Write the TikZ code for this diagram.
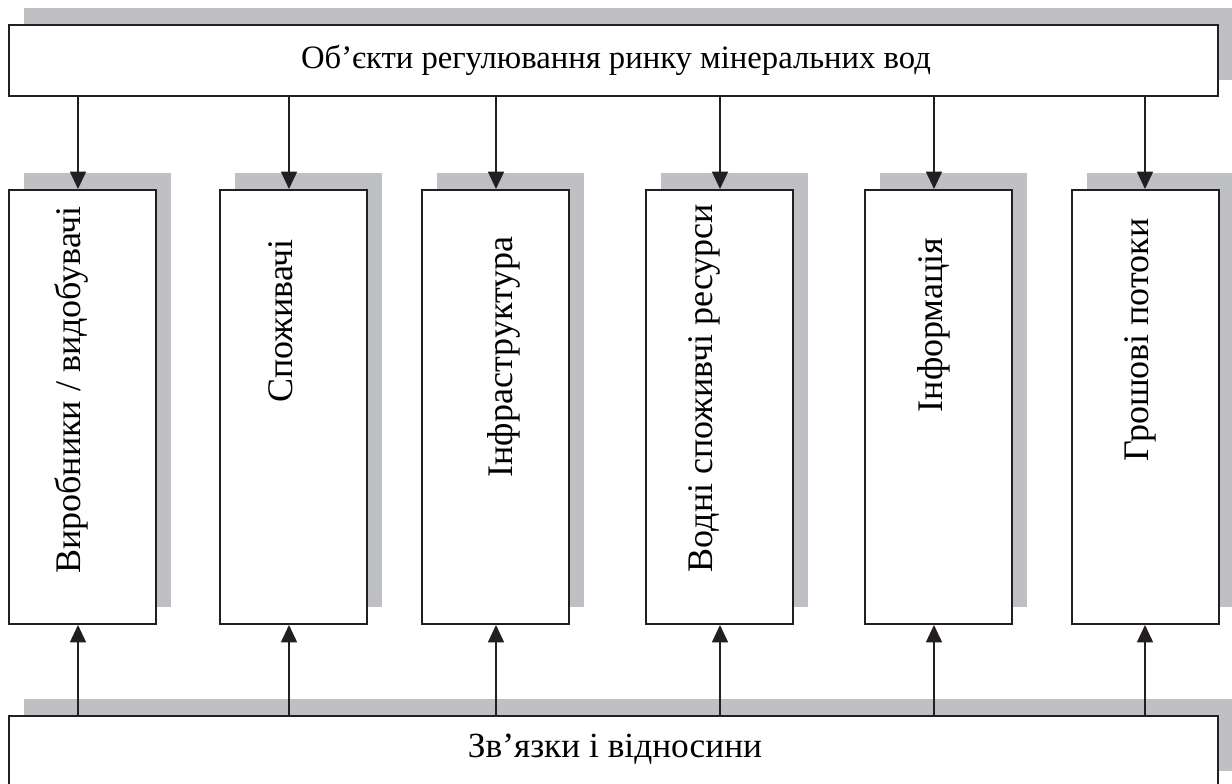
\documentclass[tikz,border=0pt]{standalone}
\usepackage{fontspec}
\setmainfont{Liberation Serif}
\usetikzlibrary{arrows.meta,shadows,calc}
\definecolor{shade}{RGB}{191,192,196}
\definecolor{ink}{RGB}{35,31,32}
\begin{document}
\begin{tikzpicture}[x=0.75pt,y=-0.75pt,
  box/.style={draw=ink,line width=1.5pt,fill=white,inner sep=0pt,
    general shadow={fill=shade,shadow xshift=11.5pt,shadow yshift=12.5pt}},
  col/.style={box,minimum width=110.25pt,minimum height=325.5pt},
  wide/.style={box,minimum width=906.75pt,minimum height=53.5pt},
  lbl/.style={inner sep=0pt,text=black},
  vlbl/.style={lbl,rotate=90,font=\fontsize{27}{32}\selectfont},
  arr/.style={draw=ink,line width=1.2pt,-{Triangle[length=13pt,width=12pt]}}]
\useasboundingbox (0,0) rectangle (1232,783);
\clip (0,0) rectangle (1232,783);
% top and bottom boxes
\node[wide] (top) at (613.5,60.5) {};
\node[lbl,font=\fontsize{24.5}{29}\selectfont] (toplbl) at (616,60) {Об’єкти регулювання ринку мінеральних вод};
\node[box,minimum width=906.75pt,minimum height=54pt] (bot) at (613.5,752) {};
\node[lbl,font=\fontsize{26.5}{31}\selectfont] (botlbl) at (615,749) {Зв’язки і відносини};
% columns
\node[col] (c1) at (82.5,407) {};
\node[col] (c2) at (293.5,407) {};
\node[col] (c3) at (495.5,407) {};
\node[col] (c4) at (719.5,407) {};
\node[col] (c5) at (938.5,407) {};
\node[col] (c6) at (1145,407) {};
% labels
\node[vlbl] (t1) at (71,390) {Виробники / видобувачі};
\node[vlbl] (t2) at (281,321) {Споживачі};
\node[vlbl] (t3) at (504,357) {Інфраструктура};
\node[vlbl] (t4) at (704,388) {Водні споживчі ресурси};
\node[vlbl] (t5) at (934,325) {Інформація};
\node[vlbl] (t6) at (1140,340) {Грошові потоки};
% arrow lines x positions
\coordinate (n1) at ($(c1.north)+(-4.5,0)$);
\coordinate (n2) at ($(c2.north)+(-4.5,0)$);
\coordinate (n3) at ($(c3.north)+(0.5,0)$);
\coordinate (n4) at ($(c4.north)+(0.5,0)$);
\coordinate (n5) at ($(c5.north)+(-4.5,0)$);
\coordinate (n6) at (c6.north);
\coordinate (s1) at ($(c1.south)+(-4.5,0)$);
\coordinate (s2) at ($(c2.south)+(-4.5,0)$);
\coordinate (s3) at ($(c3.south)+(0.5,0)$);
\coordinate (s4) at ($(c4.south)+(0.5,0)$);
\coordinate (s5) at ($(c5.south)+(-4.5,0)$);
\coordinate (s6) at (c6.south);
% arrows from top and from bottom
\foreach \i in {1,...,6} {
  \draw[arr] (n\i |- top.south) -- (n\i);
  \draw[arr] (s\i |- bot.north) -- (s\i);
}
\end{tikzpicture}
\end{document}
